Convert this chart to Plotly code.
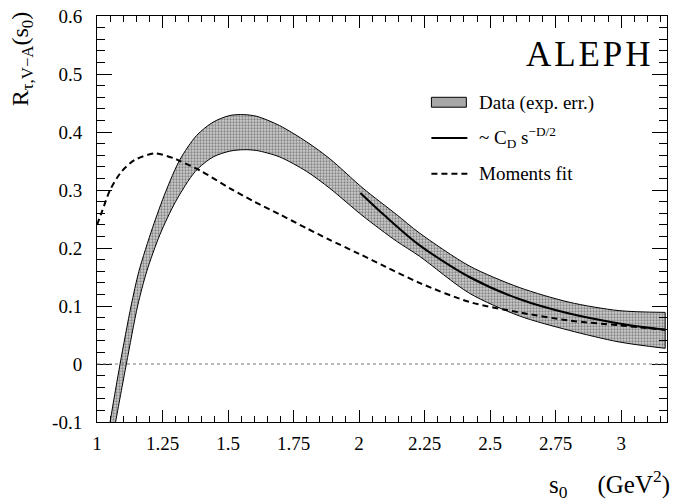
import plotly.graph_objects as go

# ---- data ----
band_upper_s = [1.040, 1.050, 1.088, 1.130, 1.160, 1.212, 1.262, 1.316, 1.380, 1.443, 1.507, 1.560,
                1.610, 1.697, 1.800, 1.888, 2.015, 2.142, 2.230, 2.421, 2.611, 2.802, 2.992, 3.168]
band_upper_v = [-0.130, -0.100, 0.000, 0.100, 0.160, 0.235, 0.297, 0.352, 0.394, 0.417, 0.4285, 0.430,
                0.427, 0.411, 0.383, 0.354, 0.303, 0.258, 0.226, 0.169, 0.132, 0.1065, 0.092, 0.089]
band_lower_s = [1.060, 1.071, 1.112, 1.155, 1.190, 1.240, 1.300, 1.375, 1.443, 1.507, 1.560,
                1.610, 1.697, 1.800, 1.888, 2.015, 2.142, 2.230, 2.421, 2.611, 2.802, 2.992, 3.168]
band_lower_v = [-0.130, -0.100, 0.000, 0.100, 0.160, 0.223, 0.280, 0.332, 0.357, 0.367, 0.3695,
                0.368, 0.357, 0.332, 0.303, 0.255, 0.212, 0.186, 0.122, 0.083, 0.058, 0.038, 0.027]

power_s = [2.005, 2.100, 2.230, 2.421, 2.611, 2.802, 2.992, 3.168]
power_v = [0.295, 0.255, 0.205, 0.150, 0.112, 0.087, 0.070, 0.059]

moments_s = [1.000, 1.020, 1.050, 1.094, 1.145, 1.221, 1.297, 1.316, 1.392, 1.507, 1.600, 1.697,
             1.800, 1.888, 2.000, 2.100, 2.230, 2.421, 2.611, 2.802, 2.992, 3.168]
moments_v = [0.240, 0.264, 0.300, 0.332, 0.352, 0.363, 0.354, 0.350, 0.334, 0.303, 0.280, 0.258,
             0.234, 0.214, 0.190, 0.168, 0.140, 0.107, 0.089, 0.075, 0.0667, 0.059]

x_tickvals = [1, 1.25, 1.5, 1.75, 2, 2.25, 2.5, 2.75, 3]
x_ticktext = ["1", "1.25", "1.5", "1.75", "2", "2.25", "2.5", "2.75", "3"]
y_tickvals = [-0.1, 0, 0.1, 0.2, 0.3, 0.4, 0.5, 0.6]
y_ticktext = ["-0.1", "0", "0.1", "0.2", "0.3", "0.4", "0.5", "0.6"]

legend_labels = ["Data (exp. err.)", "~ C<sub>D</sub> s<sup>\u2212D/2</sup>", "Moments fit"]

SERIF = "Liberation Serif"

fig = go.Figure()

line_style = dict(color="black", width=1, shape="spline", smoothing=0.8)
fig.add_trace(go.Scatter(x=band_upper_s, y=band_upper_v, mode="lines", line=line_style,
                         showlegend=False, hoverinfo="skip"))
fig.add_trace(go.Scatter(
    x=band_lower_s, y=band_lower_v, mode="lines", fill="tonexty",
    fillcolor="#c8c8c8",
    fillpattern=dict(shape=".", fgcolor="#404040", bgcolor="#cccccc", size=3, solidity=0.45),
    line=line_style, showlegend=False, hoverinfo="skip"))
# closing edge of the band at its right end
fig.add_trace(go.Scatter(x=[band_upper_s[-1], band_lower_s[-1]], y=[band_upper_v[-1], band_lower_v[-1]],
                         mode="lines", line=dict(color="black", width=1), showlegend=False, hoverinfo="skip"))

fig.add_trace(go.Scatter(x=moments_s, y=moments_v, mode="lines",
                         line=dict(color="black", width=2, dash="6px,4px", shape="spline", smoothing=0.8),
                         showlegend=False))
fig.add_trace(go.Scatter(x=power_s, y=power_v, mode="lines",
                         line=dict(color="black", width=2, shape="spline", smoothing=0.8),
                         showlegend=False))

X0, X1 = 97, 668
Y0, Y1 = 13, 422.5
def px(x):
    return (x - X0) / (X1 - X0)
def py(y):
    return (Y1 - y) / (Y1 - Y0)

shapes = [
    dict(type="line", xref="paper", yref="y", x0=0, x1=1, y0=0, y1=0,
         line=dict(color="#777777", width=1, dash="dot")),
    dict(type="rect", xref="paper", yref="paper", x0=px(432), x1=px(467), y0=py(105), y1=py(95),
         fillcolor="#a8a8a8", line=dict(color="black", width=1)),
    dict(type="line", xref="paper", yref="paper", x0=px(432), x1=px(468), y0=py(136), y1=py(136),
         line=dict(color="black", width=2)),
    dict(type="line", xref="paper", yref="paper", x0=px(432), x1=px(468), y0=py(172), y1=py(172),
         line=dict(color="black", width=2, dash="6px,4px")),
]

HS = "\u200a"
annotations = [
    dict(text=HS.join("ALEPH"), xref="paper", yref="paper", x=px(653), y=py(52), xanchor="right",
         yanchor="middle", showarrow=False, font=dict(family=SERIF, size=35, color="black")),
    dict(text=legend_labels[0], xref="paper", yref="paper", x=px(478), y=py(101), xanchor="left",
         yanchor="middle", showarrow=False, font=dict(family=SERIF, size=19, color="black")),
    dict(text=legend_labels[1], xref="paper", yref="paper", x=px(478), y=py(136), xanchor="left",
         yanchor="middle", showarrow=False, font=dict(family=SERIF, size=19, color="black")),
    dict(text=legend_labels[2], xref="paper", yref="paper", x=px(478), y=py(172), xanchor="left",
         yanchor="middle", showarrow=False, font=dict(family=SERIF, size=19, color="black")),
    dict(text="R<sub>\u03c4,V\u2212A</sub>(s<sub>0</sub>)", xref="paper", yref="paper",
         x=px(22), y=py(7), xanchor="center", yanchor="top", textangle=-90, showarrow=False,
         font=dict(family=SERIF, size=24, color="black")),
    dict(text="s<sub>0</sub>\u2002\u2002\u2009(GeV<sup>2</sup>)", xref="paper", yref="paper",
         x=px(673), y=py(485), xanchor="right", yanchor="middle", showarrow=False,
         font=dict(family=SERIF, size=25, color="black")),
]

fig.update_layout(
    width=674, height=502,
    margin=dict(l=X0, r=674 - X1, t=Y0, b=502 - Y1),
    paper_bgcolor="white", plot_bgcolor="white",
    font=dict(family=SERIF, size=19, color="black"),
    showlegend=False,
    shapes=shapes, annotations=annotations,
    xaxis=dict(range=[1, 3.175], tickmode="array", tickvals=x_tickvals, ticktext=x_ticktext,
               ticks="inside", ticklen=12, tickcolor="black", tickwidth=1,
               showline=True, linecolor="black", linewidth=1, mirror="ticks",
               showgrid=False, zeroline=False, ticklabelstandoff=4,
               minor=dict(tickmode="linear", tick0=1, dtick=0.05, ticks="inside", ticklen=6,
                          tickcolor="black", tickwidth=1, showgrid=False),
               tickfont=dict(family=SERIF, size=19)),
    yaxis=dict(range=[-0.1, 0.6], tickmode="array", tickvals=y_tickvals, ticktext=y_ticktext,
               ticks="inside", ticklen=15, tickcolor="black", tickwidth=1,
               showline=True, linecolor="black", linewidth=1, mirror="ticks",
               showgrid=False, zeroline=False, ticklabelstandoff=10,
               minor=dict(tickmode="linear", tick0=0, dtick=0.02, ticks="inside", ticklen=8,
                          tickcolor="black", tickwidth=1, showgrid=False),
               tickfont=dict(family=SERIF, size=19)),
)

fig.write_html("out.html")
